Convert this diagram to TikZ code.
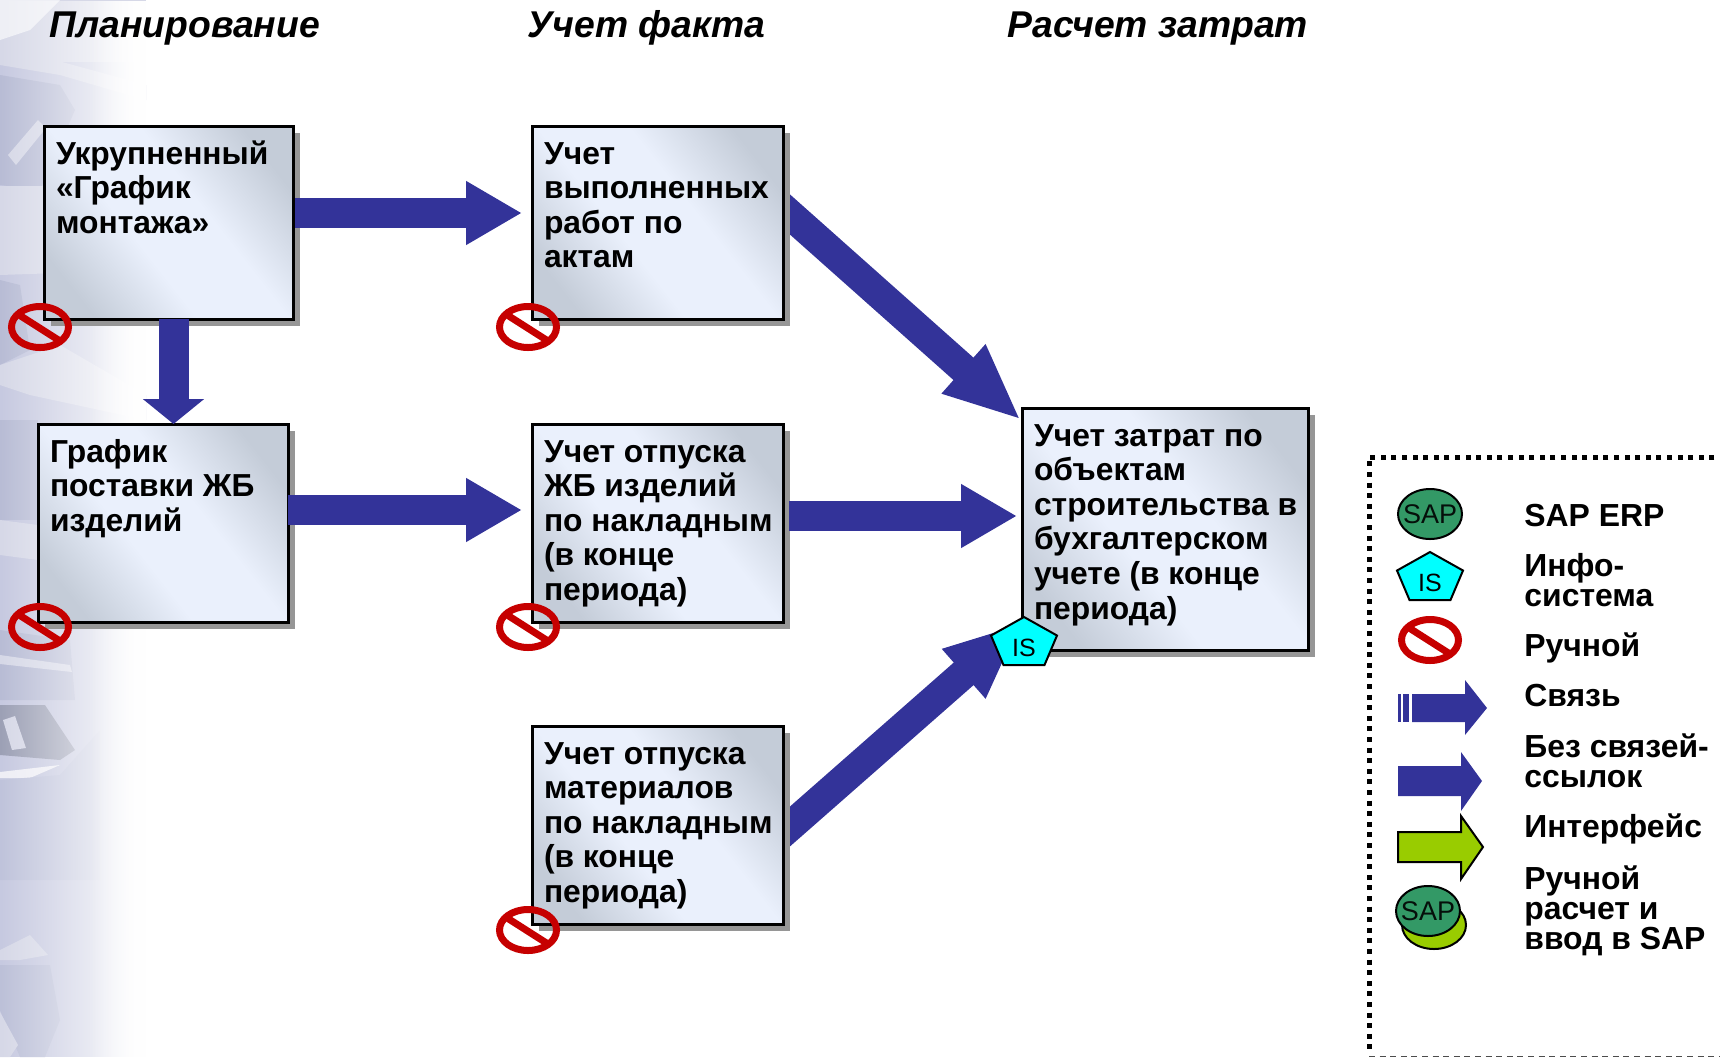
\documentclass[tikz,border=0pt]{standalone}
\usepackage{fontspec}
\setmainfont{Liberation Sans}
\usetikzlibrary{shapes.geometric,shadows,fadings,arrows.meta}
\definecolor{flowblue}{HTML}{333399}
\definecolor{sapgreen}{HTML}{339966}
\definecolor{ifgreen}{HTML}{99CC00}
\definecolor{iscyan}{HTML}{00FFFF}
\definecolor{noredc}{HTML}{C60000}
\definecolor{shadegray}{HTML}{969696}
\definecolor{boxdark}{HTML}{C4CCD8}
\definecolor{boxlight}{HTML}{EAF0FC}
\definecolor{bgbase}{HTML}{C6C9E0}
\definecolor{bgdark}{HTML}{B8BCD5}
\definecolor{bglight}{HTML}{D6D8E7}
\pgfdeclarelayer{bg}
\pgfsetlayers{bg,main}
\tikzfading[name=fadeside,left color=transparent!100,right color=transparent!0]
\pgfdeclareverticalshading{boxshade}{100bp}{color(0bp)=(boxdark); color(24bp)=(boxdark); color(42bp)=(boxlight); color(58bp)=(boxlight); color(76bp)=(boxdark); color(100bp)=(boxdark)}
\newcommand{\boxbody}[3]{\parbox[c][#2pt][t]{#1pt}{\raggedright\leftskip=6pt\rule{0pt}{19pt}#3}}
\tikzset{
  flowbox/.style={draw=black,line width=1.5pt,anchor=north west,inner sep=0pt,outer sep=0pt,
    shade,shading=boxshade,shading angle=-52,
    font=\fontsize{15.9pt}{17.3pt}\selectfont\bfseries,
    drop shadow={shadow xshift=3.4pt,shadow yshift=-3.4pt,fill=shadegray,opacity=1}},
  heading/.style={anchor=base west,inner sep=0pt,font=\fontsize{18.65pt}{20pt}\selectfont\bfseries\itshape},
  legendtext/.style={anchor=base west,inner sep=0pt,align=left,font=\fontsize{15.95pt}{15pt}\selectfont\bfseries},
  flow/.style={draw=flowblue,line width=15pt,-{Triangle[length=#1,width=30pt]},flowblue},
  flow/.default=28pt,
  plainarrow/.style={fill=flowblue,draw=none},
  saptext/.style={inner sep=0pt,font=\fontsize{13.5pt}{14pt}\selectfont,text=black!90!sapgreen},
  sapdisc/.pic={
    \draw[fill=sapgreen,draw=black,line width=1pt] (0,0) ellipse [x radius=32,y radius=25];
  },
  nosign/.pic={
    \draw[noredc,line width=3.5pt] (0,0) ellipse [x radius=28.5,y radius=20.5];
    \draw[noredc,line width=3.5pt] (-20,-11.5) -- (20,14);
  },
  ispent/.pic={
    \draw[fill=iscyan,draw=black,line width=1pt,line join=miter] (0,0) -- (33,18.5) -- (20.5,48) -- (-20.5,48) -- (-33,18.5) -- cycle;
  },
  istext/.style={inner sep=0pt,font=\fontsize{12.5pt}{14pt}\selectfont},
}
\begin{document}
\begin{tikzpicture}[x=0.5pt,y=-0.5pt]
\useasboundingbox (0,0) rectangle (1720,1057);
% background photo
\begin{pgfonlayer}{bg}
\fill[bgbase] (0,0) rectangle (146,1057);
\fill[bglight] (0,0) rectangle (146,62);
\fill[white,opacity=.6] (0,0) -- (60,0) -- (30,30) -- (0,40) -- cycle;
\fill[bglight] (0,45) -- (146,85) -- (146,100) -- (60,75) -- (0,65) -- cycle;
\fill[bgdark] (0,75) -- (60,85) -- (75,110) -- (40,190) -- (0,185) -- cycle;
\fill[bglight] (8,155) -- (38,120) -- (46,128) -- (16,165) -- cycle;
\fill[bglight] (0,186) -- (146,186) -- (146,270) -- (0,275) -- cycle;
\fill[bgdark] (0,280) -- (20,285) -- (30,350) -- (0,365) -- cycle;
\fill[bglight] (0,365) -- (60,345) -- (146,395) -- (146,420) -- (30,395) -- (0,385) -- cycle;
\fill[bgdark] (0,420) -- (38,420) -- (38,520) -- (0,520) -- cycle;
\fill[bglight] (0,520) -- (38,525) -- (38,560) -- (0,555) -- cycle;
\fill[bgdark] (0,630) -- (70,640) -- (75,700) -- (0,700) -- cycle;
\fill[bglight] (0,655) -- (70,665) -- (72,672) -- (0,664) -- cycle;
\fill[bgdark!85!black] (0,705) -- (45,705) -- (75,750) -- (60,760) -- (0,755) -- cycle;
\fill[bglight] (3,720) -- (15,716) -- (26,748) -- (12,750) -- cycle;
\fill[white,opacity=.7] (0,772) -- (60,765) -- (30,778) -- (0,778) -- cycle;
\fill[bgdark!50!bgbase] (0,780) -- (60,775) -- (100,730) -- (100,880) -- (0,880) -- cycle;
\fill[bglight] (0,950) -- (30,935) -- (48,955) -- (20,960) -- (0,960) -- cycle;
\fill[bgdark!70!bgbase] (0,965) -- (50,965) -- (60,1020) -- (45,1057) -- (20,1057) -- (0,1010) -- cycle;
\fill[bglight] (0,1012) -- (18,1045) -- (10,1057) -- (0,1057) -- cycle;
\fill[white,path fading=fadeside] (0,0) rectangle (146,1057);
\fill[white,path fading=fadeside] (90,0) rectangle (146,1057);
\fill[white,path fading=fadeside] (120,0) rectangle (146,1057);
\end{pgfonlayer}
% boxes
\node[flowbox] (b1) at (44,126) {\boxbody{124.5}{96.5}{Укрупненный\\«График\\монтажа»}};
\node[flowbox] (b2) at (38,424) {\boxbody{125}{99}{График\\поставки ЖБ\\изделий}};
\node[flowbox] (b3) at (532,126) {\boxbody{125.5}{96.5}{Учет\\выполненных\\работ по\\актам}};
\node[flowbox] (b4) at (532,424) {\boxbody{125.5}{99}{Учет отпуска\\ЖБ изделий\\по накладным\\(в конце\\периода)}};
\node[flowbox] (b5) at (532,726) {\boxbody{125.5}{99}{Учет отпуска\\материалов\\по накладным\\(в конце\\периода)}};
\node[flowbox] (b6) at (1022,408) {\boxbody{143}{121}{Учет затрат по\\объектам\\строительства в\\бухгалтерском\\учете (в конце\\периода)}};
% headings
\node[heading] (h1) at (49,37) {Планирование};
\node[heading] (h2) at (527,37) {Учет факта};
\node[heading] (h3) at (1007,37) {Расчет затрат};
% connectors
\draw[flow] ([shift={(2,-9.5)}]b1.east) -- ([shift={(-10,-9.5)}]b3.west);
\draw[flow=12.5pt] ([shift={(5,0)}]b1.south) -- ([shift={(10.5,0)}]b2.north);
\draw[flow] ([shift={(0,-13)}]b2.east) -- ([shift={(-10,-13)}]b4.west);
\draw[flow] ([shift={(6,-7)}]b4.east) -- ([shift={(-5,-13)}]b6.west);
% IS on the cost box
\pic at (1024,617) {ispent};
\node[istext] (isM) at (1024,648) {IS};
\begin{pgfonlayer}{bg}
\draw[flow=38.5pt] ([shift={(-11,-24)}]b3.east) -- ([shift={(-1,12)}]b6.north west);
\draw[flow=38.5pt] ([shift={(-13,19)}]b5.east) -- ([shift={(-2.5,-25)}]isM.center);
\end{pgfonlayer}
% manual marks
\pic at (40,327) {nosign};
\pic at (40,627) {nosign};
\pic at (528,327) {nosign};
\pic at (528,627) {nosign};
\pic at (528,930) {nosign};
% legend frame
\draw[black,line width=2.5pt,dash pattern=on 2.5pt off 2.8pt] (1725,457) -- (1369,457) -- (1369,1050);
\draw[black!70,line width=.6pt,dash pattern=on 3pt off 2.3pt] (1369,1056.6) -- (1725,1056.6);
% legend symbols
\pic at (1430,514) {sapdisc};
\node[saptext] (lsap) at (1430,514) {SAP};
\pic at (1430,552) {ispent};
\node[istext] (lis) at (1430,583) {IS};
\pic at (1430,640) {nosign};
\fill[flowblue] (1398,694) rectangle (1401,722);
\fill[flowblue] (1403,694) rectangle (1409,722);
\fill[plainarrow] (1412,694) -- (1465,694) -- (1465,680) -- (1487,708) -- (1465,735) -- (1465,722) -- (1412,722) -- cycle;
\fill[plainarrow] (1398,766) -- (1461,766) -- (1461,752) -- (1482,781) -- (1461,811) -- (1461,796) -- (1398,796) -- cycle;
\draw[fill=ifgreen,draw=black,line width=1pt] (1398,832) -- (1461,832) -- (1461,816) -- (1483,847) -- (1461,879) -- (1461,862) -- (1398,862) -- cycle;
\draw[fill=ifgreen,draw=black,line width=1pt] (1434,925) ellipse [x radius=32,y radius=24];
\pic at (1428,911) {sapdisc};
\node[saptext] (lsap2) at (1428,911) {SAP};
% legend labels
\node[legendtext] (t1) at (1524,526) {SAP ERP};
\node[legendtext] (t2) at (1524,606) {Инфо-\\система};
\node[legendtext] (t3) at (1524,656) {Ручной};
\node[legendtext] (t4) at (1524,706) {Связь};
\node[legendtext] (t5) at (1524,787) {Без связей-\\ссылок};
\node[legendtext] (t6) at (1524,837) {Интерфейс};
\node[legendtext] (t7) at (1524,949) {Ручной\\расчет и\\ввод в SAP};
\end{tikzpicture}
\end{document}
